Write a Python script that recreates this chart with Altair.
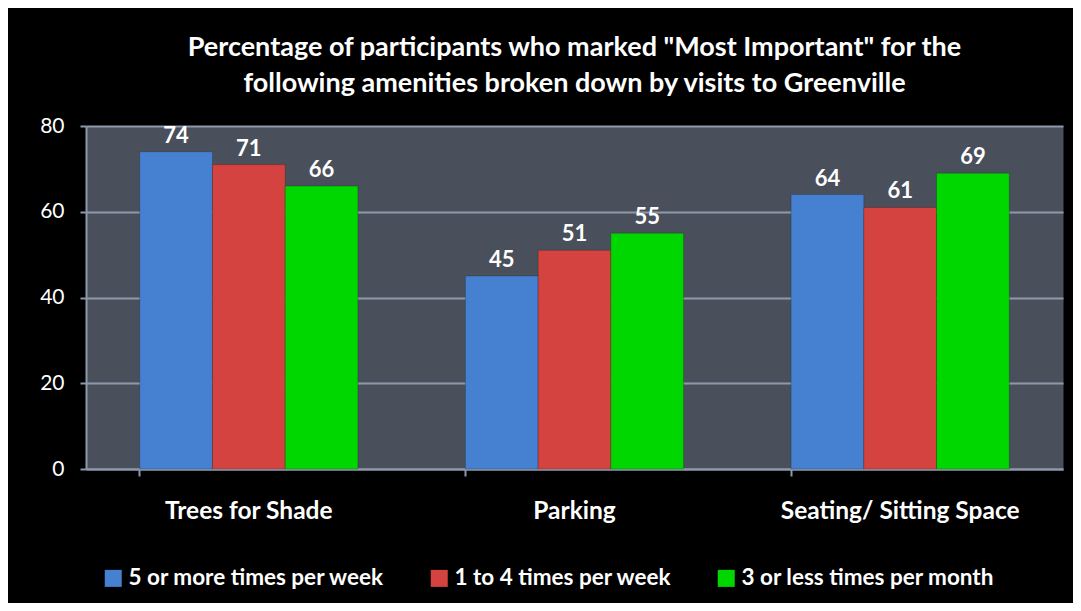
import altair as alt
import pandas as pd

categories = ["Trees for Shade", "Parking", "Seating/ Sitting Space"]
series = ["5 or more times per week", "1 to 4 times per week", "3 or less times per month"]
values_5plus = [74, 45, 64]
values_1to4 = [71, 51, 61]
values_3less = [66, 55, 69]
colors = ["#4680d0", "#d4433f", "#00d600"]

rows = []
for i, c in enumerate(categories):
    for s, vals in zip(series, [values_5plus, values_1to4, values_3less]):
        rows.append({"category": c, "series": s, "value": vals[i]})
df = pd.DataFrame(rows)

FONT = "Lato"
GRID = "#8d99ab"

x = alt.X("category:N", sort=categories, title=None,
          scale=alt.Scale(paddingInner=0.33, paddingOuter=0.165),
          axis=alt.Axis(labelAngle=0, labelFont=FONT, labelFontSize=24.5, labelFontWeight="bold",
                        labelColor="#ffffff", labelPadding=23, labelLimit=0, domainColor=GRID,
                        domainWidth=2, tickColor=GRID, tickSize=7, tickWidth=2, bandPosition=0))
xo = alt.XOffset("series:N", sort=series)

bars = alt.Chart(df).mark_bar(stroke="#00000033", strokeWidth=1).encode(
    x=x, xOffset=xo,
    y=alt.Y("value:Q", title=None,
            scale=alt.Scale(domain=[0, 80]),
            axis=alt.Axis(values=[0, 20, 40, 60, 80], labelFont=FONT, labelFontSize=21,
                          labelColor="#ffffff", labelPadding=16, grid=True, gridColor=GRID,
                          gridWidth=2, domainColor=GRID, domainWidth=2, tickColor=GRID,
                          tickSize=6, tickWidth=2)),
    color=alt.Color("series:N", sort=series,
                    scale=alt.Scale(domain=series, range=colors),
                    legend=alt.Legend(title=None, orient="none", direction="horizontal",
                                      legendX=16, legendY=441, symbolType="square",
                                      symbolSize=289, symbolStrokeWidth=0, labelFont=FONT,
                                      labelFontSize=22.5, labelFontWeight="bold", labelLimit=0,
                                      labelColor="#ffffff", columnPadding=43, labelOffset=4)),
)

labels = alt.Chart(df).mark_text(dy=-4, baseline="bottom", font=FONT, fontSize=22,
                                 fontWeight="bold", color="#ffffff").encode(
    x=alt.X("category:N", sort=categories), xOffset=xo,
    y="value:Q", text="value:Q",
)

chart = alt.layer(bars, labels).properties(
    width=977, height=343,
    background="#000000",
    padding={"left": 78, "top": 118, "right": 10, "bottom": 134},
    autosize=alt.AutoSizeParams(type="none"),
    title=alt.Title(["Percentage of participants who marked \"Most Important\" for the",
                     "following amenities broken down by visits to Greenville"],
                    font=FONT, fontSize=27, fontWeight="bold", color="#ffffff",
                    anchor="middle", offset=17, lineHeight=36),
).configure_view(fill="#4a505b", stroke="transparent")

chart.save("out.html", embed_options={"renderer": "svg", "actions": False})
